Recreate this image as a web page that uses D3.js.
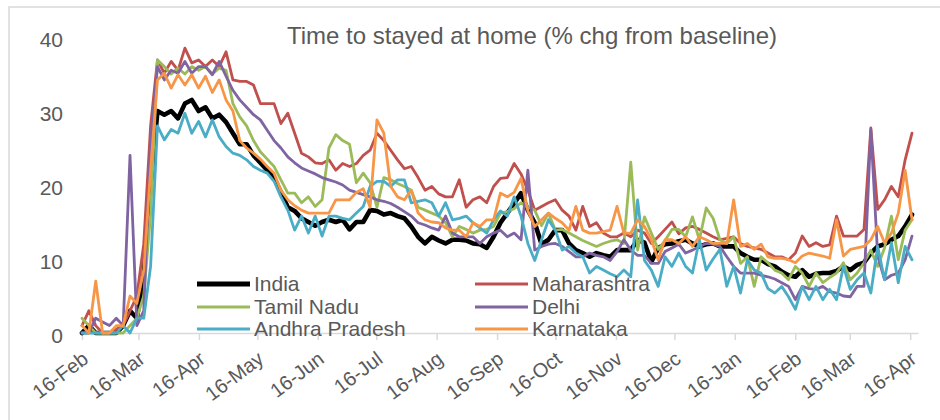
<!DOCTYPE html>
<html><head><meta charset="utf-8">
<script src="https://cdn.jsdelivr.net/npm/d3@7"></script>
<style>
body{margin:0;background:#fff;}
svg{display:block;}
text{font-family:"Liberation Sans",Arial,sans-serif;fill:#595959;}
</style>
</head><body>
<svg id="chart" width="940" height="420"></svg>
<script>
// ---- data (approx. every 3.5 days) ----
const startDate = "2020-02-16";
const stepDays = 3.52;
const india = [0,1,0,0,0,0,1,3,2,8, 20,30,29.5,30,29,31,31.5,30,30.5,29, 29.5,28.5,27,25.5,25.5,24,23,22,21,19, 17,16.5,15.5,15,14.5,15,15.3,15,15.3,14, 15,15,16.6,16.5,16,16.2,15.8,15.5,14.4,13, 12.1,13,12.5,12.1,12.6,12.6,12.5,12.1,12,11.5, 13,14.9,16.2,17.5,18.9,16.6,14.9,12,12.6,13.9, 13.9,12.1,11.2,10.8,10.3,10.8,10.5,10.3,11.2,11.2, 11.2,12.6,12.2,9.6,11.5,12,12.1,12.4,12.6,12.1, 11.7,12,12.1,11.7,11.7,11.7,10.8,10.3,9.9,9.9, 9.3,9,8.3,7.8,7.6,8.5,7.6,8,8.1,8.1, 8.4,9,8.5,9.2,9.5,10.8,11.7,12,12.6,13.1, 14.4,16];
const maharashtra = [1,3,1,0,0,0.5,1,3,5,12, 28,36.9,35.1,36.7,35.5,38.5,36.5,36.9,36,36.9, 36,38,34.2,34,34,33.5,31,31,31,28.3, 29.7,27,24.3,23.8,23,22.9,23.4,22,22.9,22.5, 22.9,24,24.7,27,26,24.7,23.4,22.2,22.5,21, 19.3,19.8,18.8,18.4,18.4,20.7,17,18,18.4,17.6, 19.8,20.9,21,22.9,21.5,19.3,16.6,17.1,17.6,18, 16.6,15.8,13.9,17.1,14.4,14.9,13.5,13,13,13.5, 13,13.9,13.5,12.1,13,14,15,13.4,14.2,14.4, 14,13.5,13,12.6,12.8,13,12.1,11.7,11.5,11.3, 10.8,10.3,10.3,9.9,10.8,13.1,11.7,12.2,11.7,11.9, 15.8,13.1,13.1,13.1,14,27.7,16.7,18,19.8,18.4, 23.4,27];
const tamilNadu = [2,1,0,0,0,0,0,1,2,5, 16,36.9,36,35,35.8,35,36,35.5,36,35, 35.8,35.5,31,29.2,28,26,24.5,23.5,22.5,20.7, 18.9,18.9,17.6,18.4,17.1,18,25,26.8,26,25.5, 20.3,21.6,20.3,17,21,20.7,20.2,19.8,19.3,17, 16.6,16.2,15.8,14.9,13,14.4,14,13.5,13.9,14, 14.4,16.2,16.4,16.8,17.6,17,16.6,14.5,16.2,13.9, 14,13.5,13,12.5,12.1,11.7,12.1,12.4,12.6,12.1, 23.1,11.2,15.7,13.5,11.3,12.5,14,14,13,15.7, 12.6,16.9,15.5,12.6,12.1,13,9.4,10.3,6.3,10.3, 9.5,8.5,8.1,7.2,9,8.1,6.3,8.1,6.8,7.5, 8.1,9.5,7.2,8.1,9.5,11.2,9,11.5,15.8,9.9, 13.9,15.3];
const delhi = [0,0,2,1.5,1,2,1,24,1,3, 26,36,34.2,35.5,35.1,36.7,35.1,36,36,34.9, 36.7,34.7,32.8,31.5,30.5,29.5,28.8,27.4,26,25, 23.8,23,22.3,21.9,21.5,21,20.7,20.4,20,19.3, 19,18.7,18.4,18,17.8,17.5,17,16.4,15.8,14.9, 14.6,14.2,13.9,15.8,13.5,13,13,13,12.1,13, 13.5,13.9,13,13.5,12.6,22,11.2,11.7,12,12.1, 11.7,11,10.3,10.3,10.8,10.5,10.3,9.8,11,12.6, 11.2,10.5,10.5,9.4,9.4,11,11.5,12,10.8,11.2, 11.7,12.1,12,11.7,10.3,9,8.1,8.1,8.1,7.8, 7.6,7.3,6.8,6.3,4.5,6.3,6,5.9,6.3,5.6, 5.4,5,4.9,6.3,6.3,27.5,10.4,7.2,7.8,8.1, 9.9,13.1];
const andhraPradesh = [0,0,0,0,0,0,1,0,2,2, 9,28,26.1,27.5,27,29.7,27,28.6,26.5,28.8, 26.5,25.2,24.3,24,23.4,22.5,22,21.6,20.5,18.4, 16.6,13.9,15.8,13.5,15.8,13.1,15.8,15.8,15.5,15.3, 16.2,17.1,19.8,20.5,20.5,19.8,20.7,20.7,17.6,17.8, 18,17.6,15.8,17.6,15.3,15.5,15.8,14.9,14.2,13.5, 15.3,16.5,15.8,18.4,15.8,12.1,9.8,12.6,15.3,13.9, 11.2,11.7,10.8,10.3,8.1,9,8.5,8,7.6,8.5, 7.6,18,9.8,8.5,6.3,10.3,9,10.8,9,8.1, 12.6,8.5,10,11.3,6.3,9,5.4,9.9,8.5,8.1, 6,5.4,6.3,4.9,3.2,6.3,4.5,6.3,4.5,5.9, 4.5,9,5.9,7.2,8.1,5.4,11.7,7.2,12.2,6.8, 11.7,9.9];
const karnataka = [1,0,7,0,0,1,1,5,4,8.5, 22,34.2,35.1,33.1,34.9,33.5,34.9,33.1,34.7,32.5, 34.2,31.5,30,26,25,24.3,23.5,22.5,21.6,19.3, 18,17.2,16.6,16.2,16.2,16.2,16.2,18,18,18, 19,19.5,17,28.8,27,19.8,18.4,18,19.3,16.2, 15.3,15,14.9,14.2,13.9,13.9,13,14.9,14.4,15.3, 15.3,18.9,18.4,19,20.9,16.5,14.4,15.3,16.2,15.5, 14.9,13.9,17.1,13.9,13.5,13.5,13.7,13.9,17.1,13.5, 13.5,15.3,14.4,12.6,9.9,12.6,12.6,12.1,13,11.7, 13,12.6,12.1,12.1,12.1,18,11.7,12.1,11.3,12, 10.3,10.1,10.1,9.9,9.5,10.4,10.8,10.6,10.4,10.1, 15.3,10.4,11.3,11.5,11.7,12.6,14.4,12.2,13.5,16.2, 22,15.3];

const seriesNames = ["India","Maharashtra","Tamil Nadu","Delhi","Andhra Pradesh","Karnataka"];
const seriesValues = [india, maharashtra, tamilNadu, delhi, andhraPradesh, karnataka];
const seriesColors = ["#000000","#C0504D","#9BBB59","#8064A2","#4BACC6","#F79646"];
const yTicks = [0,10,20,30,40];
const xTickDates = ["2020-02-16","2020-03-16","2020-04-16","2020-05-16","2020-06-16","2020-07-16","2020-08-16","2020-09-16","2020-10-16","2020-11-16","2020-12-16","2021-01-16","2021-02-16","2021-03-16","2021-04-16"];
const titleText = "Time to stayed at home (% chg from baseline)";

// ---- drawing ----
const parse = d3.timeParse("%Y-%m-%d");
const t0 = parse(startDate);
const dates = india.map((_, i) => new Date(t0.getTime() + i * stepDays * 864e5));

const svg = d3.select("#chart");
svg.append("rect").attr("x",9).attr("y",7).attr("width",960).attr("height",440)
  .attr("fill","none").attr("stroke","#d9d9d9").attr("stroke-width",1.5);

const x = d3.scaleTime().domain([parse("2020-02-16"), parse("2021-04-20")]).range([82, 918]);
const y = d3.scaleLinear().domain([0, 40]).range([333, 37]);

// x axis
const xAxis = svg.append("g").attr("transform","translate(0,333)")
  .call(d3.axisBottom(x).tickValues(xTickDates.map(parse)).tickFormat(d3.timeFormat("%d-%b")).tickSize(7).tickSizeOuter(0));
xAxis.select(".domain").attr("stroke","#d9d9d9").attr("stroke-width",1.5);
xAxis.selectAll(".tick line").attr("stroke","#d9d9d9").attr("stroke-width",1.5);
xAxis.selectAll(".tick text")
  .attr("font-size",20).attr("fill","#595959").attr("font-family",'"Liberation Sans",Arial,sans-serif')
  .attr("text-anchor","end").attr("x",0).attr("y",0).attr("dy","0.35em")
  .attr("transform","translate(3,23) rotate(-37)");

// y axis
const yAxis = svg.append("g").attr("transform","translate(63,0)")
  .call(d3.axisLeft(y).tickValues(yTicks).tickSize(0).tickPadding(0));
yAxis.select(".domain").remove();
yAxis.selectAll(".tick text").attr("font-size",21).attr("fill","#595959")
  .attr("font-family",'"Liberation Sans",Arial,sans-serif').attr("dy","0.43em");

// lines
const line = d3.line().x((d,i) => x(dates[i])).y(d => y(d)).curve(d3.curveLinear);
seriesValues.forEach((vals, k) => {
  svg.append("path").datum(vals).attr("d", line)
    .attr("fill","none").attr("stroke", seriesColors[k])
    .attr("stroke-width", k === 0 ? 4.6 : 2.8)
    .attr("stroke-linejoin","round").attr("stroke-linecap","round");
});

// title
svg.append("text").attr("x",532).attr("y",44).attr("text-anchor","middle")
  .attr("font-size",24).text(titleText);

// legend
const legCols = [197, 475];
const legRows = [284, 307, 329];
seriesNames.forEach((name, k) => {
  const col = k % 2, row = Math.floor(k / 2);
  const lx = legCols[col], ly = legRows[row];
  svg.append("line").attr("x1",lx).attr("x2",lx+53).attr("y1",ly).attr("y2",ly)
    .attr("stroke",seriesColors[k]).attr("stroke-width", k === 0 ? 5 : 3);
  svg.append("text").attr("x",lx+57).attr("y",ly).attr("dy","0.35em")
    .attr("font-size",21).text(name);
});
</script>
</body></html>
